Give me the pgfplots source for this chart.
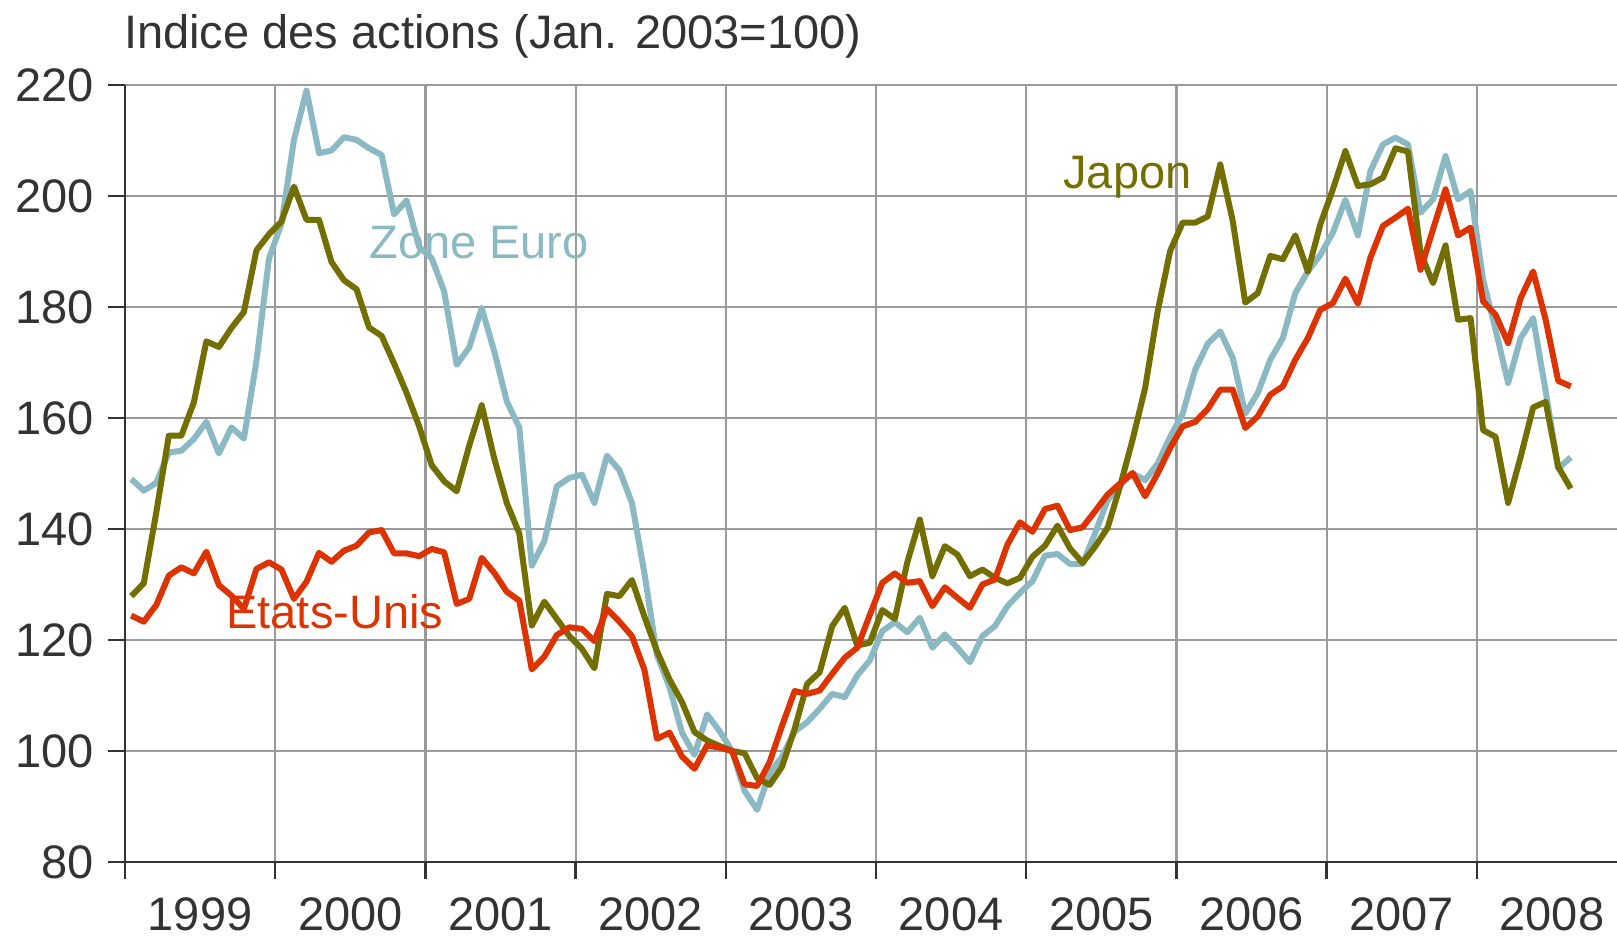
\documentclass[border=0pt]{standalone}
\usepackage{fontspec}
\setmainfont{Liberation Sans}
\usepackage{pgfplots}
\usepackage{pgfplotstable}
\pgfplotsset{compat=1.18}
\definecolor{eu}{HTML}{8AB8C3}
\definecolor{us}{HTML}{DD3300}
\definecolor{jp}{HTML}{736E00}
\definecolor{txt}{HTML}{333333}
\definecolor{gridc}{HTML}{9A9A9A}

\pgfplotstableread{
us jp eu
124.4 127.9 149.0
123.3 130.2 146.9
126.3 143.0 148.3
131.6 156.8 153.8
133.1 156.8 154.1
132.0 162.8 156.2
135.9 173.8 159.3
129.9 172.8 153.6
128.0 176.2 158.3
125.6 179.1 156.3
132.8 190.2 170.2
134.0 193.1 188.7
132.7 195.4 195.0
127.4 201.7 210.1
130.5 195.7 219.0
135.7 195.7 207.7
134.1 188.1 208.2
136.1 184.8 210.6
137.0 183.2 210.1
139.4 176.3 208.6
139.8 174.8 207.4
135.6 169.8 196.7
135.6 164.5 199.2
135.1 158.5 190.8
136.4 151.5 188.8
135.8 148.6 182.8
126.5 146.8 169.6
127.4 155.0 172.7
134.8 162.3 179.8
132.1 152.7 172.0
128.7 144.7 163.0
127.1 139.2 158.3
114.7 122.6 133.4
117.0 126.9 137.8
120.9 123.8 147.7
122.3 120.7 149.2
122.0 118.4 149.8
119.8 114.9 144.7
125.6 128.3 153.2
123.3 127.9 150.6
120.7 130.8 144.7
114.6 124.2 132.0
102.2 118.0 117.3
103.3 112.9 111.5
99.0 108.8 103.3
96.8 103.4 99.3
101.0 101.9 106.6
100.6 100.9 103.6
100.0 100.0 100.0
94.0 99.6 92.8
93.7 95.1 89.4
98.0 93.9 96.0
104.6 97.2 99.0
110.8 104.0 103.5
110.3 112.1 105.2
110.9 114.2 107.6
113.9 122.5 110.3
116.8 125.8 109.7
118.6 119.0 113.6
124.5 119.5 116.3
130.3 125.4 121.6
132.0 123.8 123.2
130.3 134.0 121.4
130.6 141.7 124.0
126.1 131.5 118.6
129.5 136.9 121.0
127.6 135.4 118.6
125.8 131.5 116.0
130.0 132.7 120.7
130.9 131.2 122.5
137.2 130.2 126.1
141.2 131.2 128.5
139.5 135.0 130.6
143.6 137.0 135.2
144.2 140.6 135.5
139.8 136.5 133.7
140.3 133.9 133.7
143.2 136.8 139.2
146.2 140.2 145.2
148.2 147.7 147.9
150.1 156.1 150.0
145.9 165.4 148.8
150.0 179.2 151.8
154.6 190.1 156.6
158.5 195.2 160.8
159.3 195.2 168.7
161.6 196.3 173.4
165.1 205.7 175.6
165.1 195.5 170.8
158.2 180.8 160.8
160.3 182.5 164.5
164.2 189.2 170.5
165.7 188.6 174.4
170.5 192.9 182.5
174.4 186.4 186.4
179.5 194.9 189.4
180.7 201.2 193.4
185.1 208.1 199.3
180.6 201.8 192.9
188.9 202.1 204.5
194.6 203.3 209.3
196.1 208.6 210.5
197.7 208.0 209.3
186.7 189.8 197.0
194.0 184.3 199.4
201.2 191.1 207.2
192.9 177.7 199.4
194.3 178.0 200.9
181.0 157.8 184.9
178.6 156.6 175.9
173.5 144.7 166.3
181.6 153.0 174.4
186.4 161.9 178.0
177.7 162.9 164.8
166.7 151.2 150.9
165.7 147.3 152.9
}\data

\begin{document}
\fontsize{23.5pt}{28pt}\selectfont
\begin{tikzpicture}[font=\fontsize{23.5pt}{28pt}\selectfont]
\useasboundingbox (0,0) rectangle (808.5pt,470pt);
\begin{axis}[
  at={(62.5pt,39pt)}, anchor=south west,
  scale only axis, width=746pt, height=388.5pt,
  xmin=-0.5, xmax=118.7, ymin=80, ymax=220,
  axis lines=left,
  axis line style={-, draw=txt, line width=1.4pt},
  clip=false,
  grid=major,
  major grid style={draw=gridc, line width=1.1pt},
  tick align=outside,
  major tick length=8.5pt,
  every tick/.style={draw=txt, line width=1.2pt},
  ytick={80,100,...,220},
  yticklabel style={text=txt, anchor=east, inner sep=0pt, xshift=-7pt},
  /pgf/number format/assume math mode=true,
  xtick={-0.5,11.5,...,107.5},
  xticklabels={},
  extra x ticks={5.5,17.5,...,113.5},
  extra x tick labels={1999,2000,2001,2002,2003,2004,2005,2006,2007,2008},
  extra x tick style={major tick length=0pt, grid=none,
     tick label style={text=txt, anchor=north, inner sep=0pt, yshift=-17.5pt}},
]
\addplot[eu, line width=3pt, line join=round] table[x expr=\coordindex, y=eu] {\data};
\addplot[jp, line width=3pt, line join=round] table[x expr=\coordindex, y=jp] {\data};
\addplot[us, line width=3pt, line join=round] table[x expr=\coordindex, y=us] {\data};
\node[anchor=base west, inner sep=0pt, text=txt] at (axis cs:-0.6,226.6) {Indice des actions (Jan. 2003=100)};
\node[anchor=base west, inner sep=0pt, text=eu] at (axis cs:18.99,188.8) {Zone Euro};
\node[anchor=base west, inner sep=0pt, text=us] at (axis cs:7.57,122.0) {Etats-Unis};
\node[anchor=base west, inner sep=0pt, text=jp] at (axis cs:74.44,201.3) {Japon};
\end{axis}
\end{tikzpicture}
\end{document}
